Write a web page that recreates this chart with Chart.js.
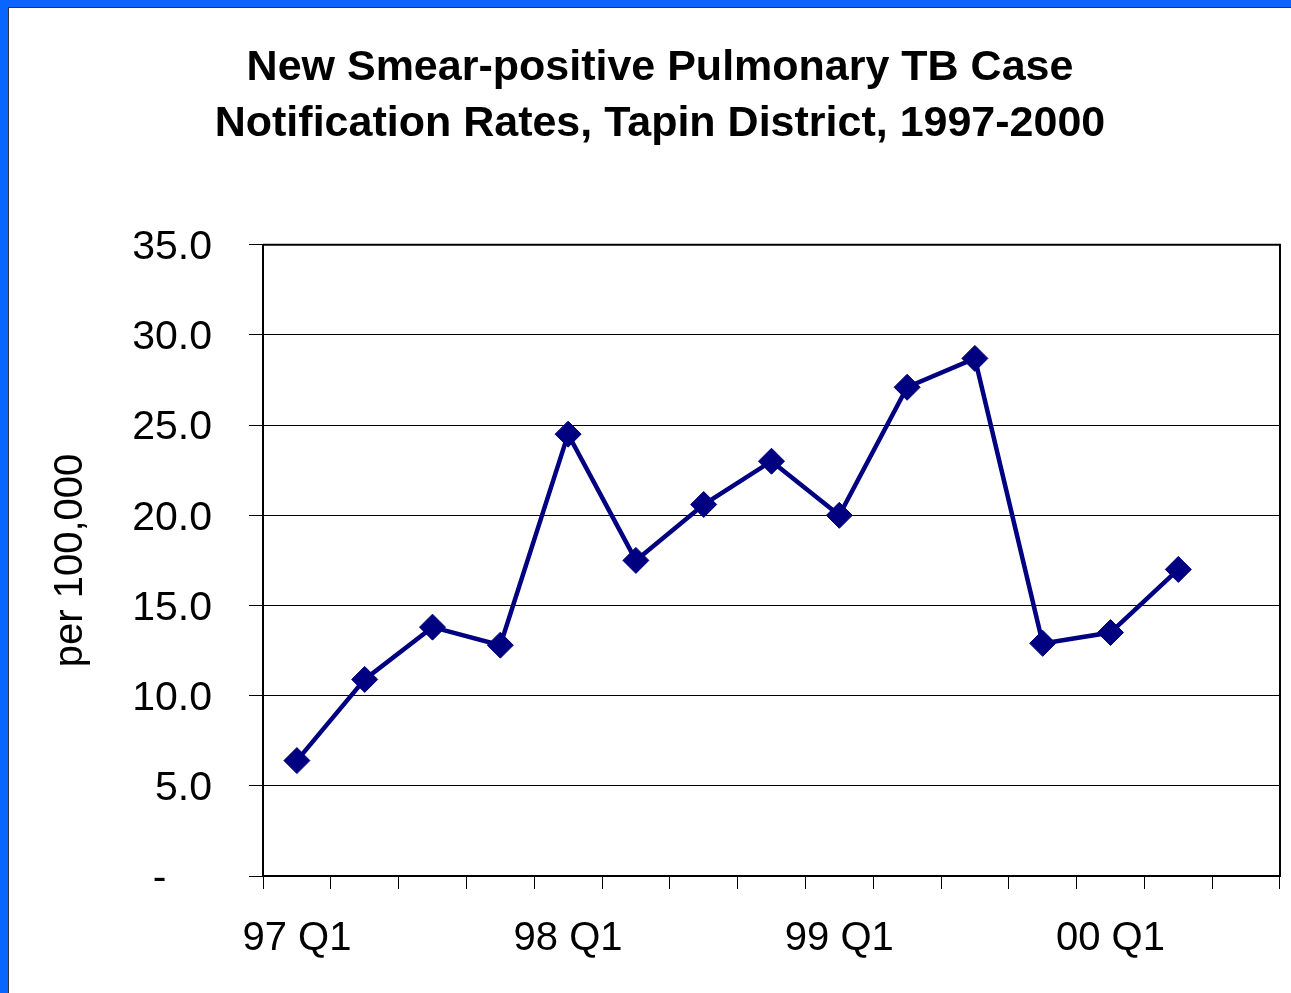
<!DOCTYPE html>
<html>
<head>
<meta charset="utf-8">
<script src="https://cdn.jsdelivr.net/npm/chart.js@4.4.1/dist/chart.umd.min.js"></script>
<style>
  html, body { margin: 0; padding: 0; }
  body { width: 1291px; height: 993px; background: #0866ff; position: relative; overflow: hidden; }
  #sheet { position: absolute; left: 8px; top: 7px; width: 1283px; height: 986px; background: #fff; border-left: 1px solid #333; border-top: 1px solid #333; }
  #wrap { position: absolute; left: 0; top: 0; width: 1291px; height: 993px; }
</style>
</head>
<body>
<div id="sheet"></div>
<div id="wrap"><canvas id="tb-chart"></canvas></div>
<script>
// quarters 97 Q1 .. 00 Q3, only Q1 gets a label on the axis
const quarters = ['97 Q1', '97 Q2', '97 Q3', '97 Q4',
                  '98 Q1', '98 Q2', '98 Q3', '98 Q4',
                  '99 Q1', '99 Q2', '99 Q3', '99 Q4',
                  '00 Q1', '00 Q2', '00 Q3'];
// rate per 100,000 (last quarter not reported)
const rates = [6.4, 10.9, 13.8, 12.8, 24.5, 17.5, 20.6, 23.0, 20.0, 27.1, 28.7, 12.9, 13.5, 17.0, null];
const titleLines = ['New Smear-positive Pulmonary TB Case', 'Notification Rates, Tapin District, 1997-2000'];

const FONT = "'Liberation Sans', Arial, sans-serif";
const PAD_LEFT = 40;

// plot frame (top + right edges)
const framePlugin = {
    id: 'frame',
    beforeDatasetsDraw(chart) {
        const a = chart.chartArea;
        const ctx = chart.ctx;
        ctx.save();
        ctx.strokeStyle = '#000';
        ctx.lineWidth = 2;
        ctx.beginPath();
        ctx.moveTo(a.left, a.top);
        ctx.lineTo(a.right, a.top);
        ctx.lineTo(a.right, a.bottom);
        ctx.stroke();
        ctx.restore();
    }
};

const data = {
    labels: quarters,
    datasets: [{
        label: 'rate',
        data: rates,
        borderColor: '#000080',
        backgroundColor: '#000080',
        borderWidth: 4.5,
        tension: 0,
        pointStyle: 'rectRot',
        pointRadius: 13,
        pointHoverRadius: 13,
        pointBorderWidth: 1,
        pointBackgroundColor: '#000080',
        pointBorderColor: '#000080'
    }]
};

const config = {
    type: 'line',
    data: data,
    options: {
        responsive: false,
        animation: false,
        layout: { autoPadding: false, padding: { left: PAD_LEFT, right: 11, top: 0, bottom: 0 } },
        plugins: {
            legend: { display: false },
            tooltip: { enabled: false },
            title: {
                display: true,
                text: titleLines,
                color: '#000',
                font: { family: FONT, size: 43, weight: 'bold', lineHeight: 1.3 },
                padding: { top: 40, bottom: 93 }
            }
        },
        scales: {
            x: {
                offset: true,
                border: { color: '#000', width: 2 },
                grid: { offset: true, drawOnChartArea: false, drawTicks: true, tickLength: 13, color: '#000', lineWidth: 1 },
                ticks: {
                    autoSkip: false,
                    maxRotation: 0,
                    padding: 26,
                    color: '#000',
                    font: { family: FONT, size: 40 },
                    callback: function(value) {
                        const q = quarters[value];
                        return q.endsWith('Q1') ? q : '';
                    }
                },
                afterFit(scale) { scale.height = 117; }
            },
            y: {
                min: 0,
                max: 35,
                border: { color: '#000', width: 2 },
                grid: { color: '#000', lineWidth: 1, tickLength: 14 },
                ticks: {
                    stepSize: 5,
                    padding: 37,
                    labelOffset: 3,
                    color: '#000',
                    font: { family: FONT, size: 41 },
                    callback: function(value) {
                        return value === 0 ? '-    ' : value.toFixed(1);
                    }
                },
                title: {
                    display: true,
                    text: 'per 100,000',
                    color: '#000',
                    font: { family: FONT, size: 40 },
                    padding: { top: 7, bottom: 0 }
                },
                afterFit(scale) { scale.width = 263 - PAD_LEFT; }
            }
        }
    },
    plugins: [framePlugin]
};

window.onload = function() {
    const canvas = document.getElementById('tb-chart');
    canvas.width = 1291;
    canvas.height = 993;
    const ctx = canvas.getContext('2d');
    window.tbChart = new Chart(ctx, config);
};
</script>
</body>
</html>
